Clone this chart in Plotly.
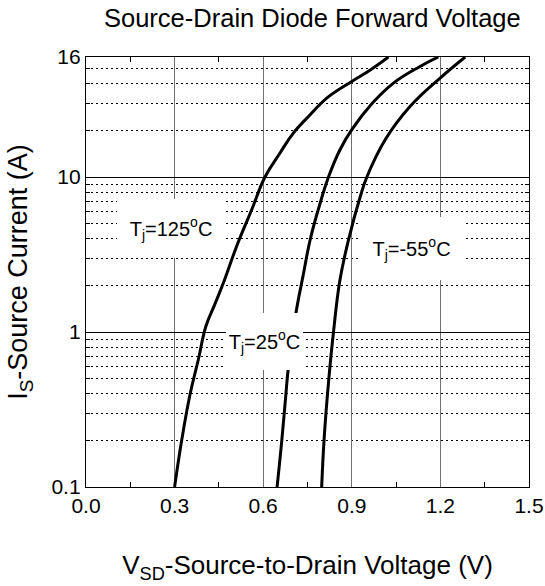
import math
import plotly.graph_objects as go

# ---- data (V_SD in volts, I_S in amperes) ----
v_125 = [0.300, 0.324, 0.352, 0.380, 0.406, 0.435, 0.465, 0.513, 0.561, 0.606, 0.657, 0.702, 0.759, 0.815, 0.900, 0.960, 1.024]
i_125 = [0.1, 0.2, 0.394, 0.66, 1.09, 1.49, 2.07, 3.7, 6.15, 10.0, 14.3, 19.2, 25.2, 32.3, 41.4, 48.7, 59.5]

v_25 = [0.647, 0.663, 0.676, 0.685, 0.711, 0.737, 0.759, 0.793, 0.821, 0.860, 0.900, 0.970, 1.041, 1.131, 1.193]
i_25 = [0.1, 0.2, 0.38, 0.586, 1.33, 2.41, 3.94, 6.8, 10.0, 15.0, 20.2, 30.0, 40.4, 51.7, 59.5]

v_m55 = [0.798, 0.806, 0.821, 0.838, 0.860, 0.889, 0.928, 0.951, 1.013, 1.097, 1.199, 1.284]
i_m55 = [0.1, 0.2, 0.469, 1.0, 2.17, 3.94, 7.4, 10.0, 17.4, 28.5, 43.5, 59.5]

x_tickvals = [0.0, 0.3, 0.6, 0.9, 1.2, 1.5]
x_ticktext = ["0.0", "0.3", "0.6", "0.9", "1.2", "1.5"]
x_minorvals = [0.15, 0.45, 0.75, 1.05, 1.35]

y_tickvals = [0.1, 1, 10, 59.5]
y_ticktext = ["0.1", "1", "10", "16"]
y_minorvals = [0.2, 0.3, 0.4, 0.5, 0.6, 0.7, 0.8, 0.9,
               2, 3, 4, 5, 6, 7, 8, 9,
               20, 30, 40, 50]

labels = ["T<sub>j</sub>=125<sup>o</sup>C", "T<sub>j</sub>=25<sup>o</sup>C", "T<sub>j</sub>=-55<sup>o</sup>C"]
label_v = [0.288, 0.606, 1.102]
label_i = [4.67, 0.872, 3.47]
label_w = [108, 77, 103]
label_h = [59, 57, 63]

FONT = "Liberation Sans, Arial, Helvetica, sans-serif"

fig = go.Figure()
for v, i in [(v_125, i_125), (v_25, i_25), (v_m55, i_m55)]:
    fig.add_trace(go.Scatter(
        x=v, y=i, mode="lines",
        line=dict(color="black", width=3, shape="spline", smoothing=1.2),
        showlegend=False, hoverinfo="skip"))

for t, v, i, w, h in zip(labels, label_v, label_i, label_w, label_h):
    fig.add_annotation(
        x=v, y=math.log10(i), xref="x", yref="y", text=t, showarrow=False,
        font=dict(family=FONT, size=20, color="black"),
        bgcolor="white", borderpad=0, borderwidth=0,
        width=w, height=h, align="center", valign="middle")

W, H = 545, 586
fig.update_layout(
    width=W, height=H,
    margin=dict(l=86, r=16, t=57, b=99, autoexpand=False),
    paper_bgcolor="white", plot_bgcolor="white",
    font=dict(family=FONT, color="black"),
    title=dict(text="Source-Drain Diode Forward Voltage",
               font=dict(family=FONT, size=25.5, color="black"),
               x=0.511, xanchor="center", xref="paper",
               y=1 - 18.5 / H, yanchor="middle", yref="container",
               automargin=False),
)

fig.update_xaxes(
    range=[0, 1.5], tickmode="array", tickvals=x_tickvals, ticktext=x_ticktext,
    tickfont=dict(family=FONT, size=21, color="black"),
    showgrid=True, gridcolor="#707070", gridwidth=1.4,
    showline=True, linecolor="black", linewidth=1.3, mirror="ticks",
    ticks="", zeroline=False, automargin=False,
    minor=dict(tickmode="array", tickvals=x_minorvals, ticks="inside",
               ticklen=5, tickcolor="black", tickwidth=1, showgrid=False),
    title=dict(text="V<sub>SD</sub>-Source-to-Drain Voltage (V)",
               font=dict(family=FONT, size=26, color="black"), standoff=39),
)

fig.update_yaxes(
    type="log", range=[-1, math.log10(59.5)],
    tickmode="array", tickvals=y_tickvals, ticktext=y_ticktext,
    tickfont=dict(family=FONT, size=21, color="black"),
    showgrid=True, gridcolor="black", gridwidth=1.2,
    showline=True, linecolor="black", linewidth=1.3, mirror="ticks",
    ticks="", zeroline=False, automargin=False,
    minor=dict(tickmode="array", tickvals=y_minorvals, ticks="inside",
               ticklen=4, tickcolor="black", tickwidth=1,
               showgrid=True, gridcolor="black", gridwidth=1, griddash="2px,3px"),
    title=dict(text="I<sub>S</sub>-Source Current (A)",
               font=dict(family=FONT, size=27, color="black"), standoff=15),
)

fig.write_html("out.html",
               config={"displayModeBar": False},
               post_script="document.body.style.margin='0';document.body.style.overflow='hidden';")
